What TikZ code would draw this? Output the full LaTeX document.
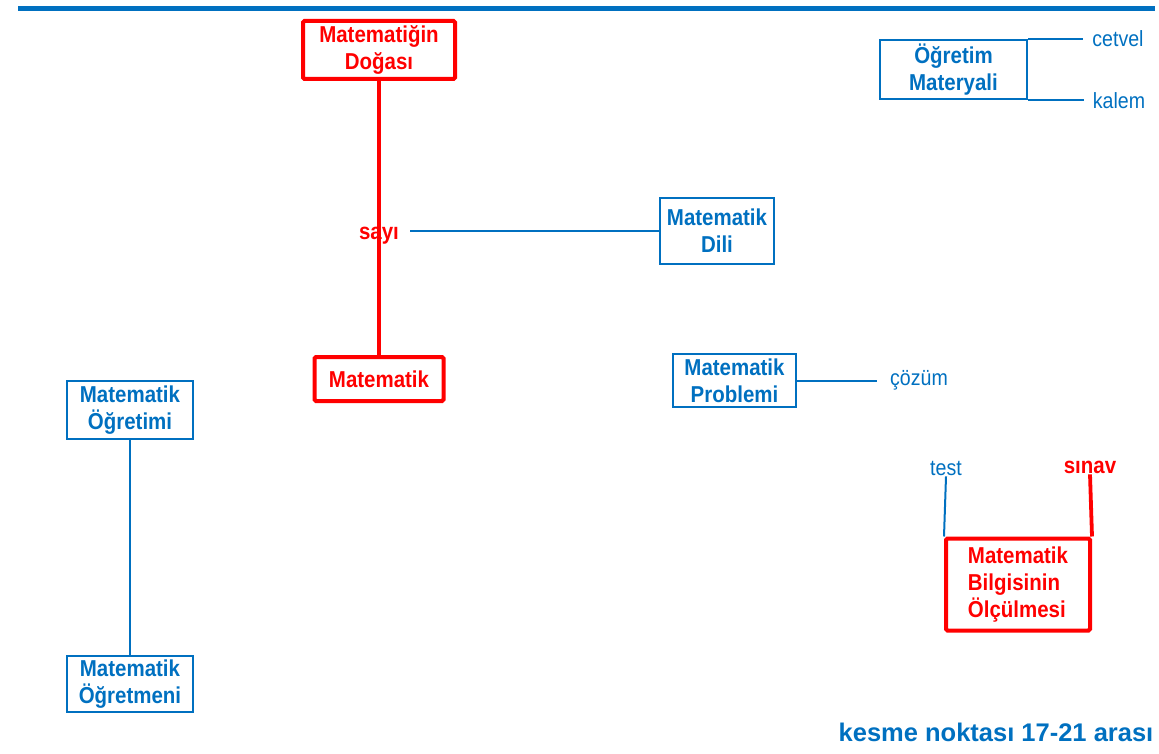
\documentclass[tikz,border=0pt]{standalone}
\usepackage{fontspec}
\setmainfont{Liberation Sans}[FakeStretch=0.89]
\newfontfamily\plainsans{Liberation Sans}
\usetikzlibrary{backgrounds}
\definecolor{mblue}{RGB}{0,112,192}
\definecolor{mred}{RGB}{255,0,0}

\begin{document}
\begin{tikzpicture}[x=1pt,y=-1pt,
  bluebox/.style={draw=mblue, line width=2.2pt, text=mblue, align=center,
    inner sep=0pt, font=\bfseries\fontsize{23}{27}\selectfont},
  redbox/.style={draw=mred, line width=4pt, rounded corners=1.5pt, text=mred,
    align=center, inner sep=0pt, font=\bfseries\fontsize{23}{27}\selectfont},
  bluelink/.style={draw=mblue, line width=2pt},
  redlink/.style={draw=mred, line width=3.8pt},
  bluelabel/.style={text=mblue, inner sep=0pt, font=\fontsize{22}{25}\selectfont},
  redlabel/.style={text=mred, inner sep=0pt, font=\bfseries\fontsize{23}{27}\selectfont},
]
\useasboundingbox (0,0) rectangle (1159,754);

% header rule
\coordinate (ruleL) at (18,8.5);
\coordinate (ruleR) at (1155,8.5);
\draw[draw=mblue, line width=4.5pt] (ruleL) -- (ruleR);

% concept boxes
\node[redbox, minimum width=152pt, minimum height=58pt] (doga) at (379,50) {Matematiğin\\Doğası};
\node[redbox, minimum width=129pt, minimum height=44pt] (mat) at (379,379) {Matematik};
\node[redlabel, anchor=base, inner xsep=11pt] (sayi) at (379,240) {sayı};

\node[bluebox, minimum width=114pt, minimum height=66pt] (dili) at (717,231) {Matematik\\Dili};
\node[bluebox, minimum width=123pt, minimum height=53pt] (prob) at (734.5,380.5) {Matematik\\Problemi};
\node[bluelabel, anchor=base] (cozum) at (919,385) {çözüm};

\node[bluebox, minimum width=147pt, minimum height=59pt] (materyal) at (953.5,69.5) {Öğretim\\Materyali};
\node[bluelabel, anchor=base] (cetvel) at (1118,47) {cetvel};
\node[bluelabel, anchor=base] (kalem) at (1119,109) {kalem};

\node[bluebox, minimum width=126pt, minimum height=58pt] (ogretimi) at (130,410) {Matematik\\Öğretimi};
\node[bluebox, minimum width=126pt, minimum height=56pt] (ogretmeni) at (130,684) {Matematik\\Öğretmeni};

\node[redbox, minimum width=144pt, minimum height=92pt, align=left] (olcum) at (1018,584.5) {Matematik\\Bilgisinin\\Ölçülmesi};
\node[bluelabel, anchor=base, inner sep=1pt] (test) at (946,475) {test};
\node[redlabel, anchor=base, inner sep=1pt] (sinav) at (1090,473) {sınav};

\node[text=mblue, anchor=base, inner sep=0pt, font=\plainsans\bfseries\fontsize{25.5}{30}\selectfont] (kesme) at (996,741) {kesme noktası 17-21 arası};

% connectors
\begin{pgfonlayer}{background}
  \draw[redlink] (doga.south) -- (mat.north);
\end{pgfonlayer}
\draw[bluelink] (sayi.east |- dili.west) -- (dili.west);
\draw[bluelink, shorten >=13pt] (prob.east) -- (prob.east -| cozum.west);
\draw[bluelink, shorten >=9pt] (materyal.north east) -- (materyal.north east -| cetvel.west);
\draw[bluelink, shorten >=9pt] (materyal.south east) -- (materyal.south east -| kalem.west);
\draw[bluelink] (ogretimi.south) -- (ogretmeni.north);
\draw[bluelink] (olcum.north west) -- (test.south);
\draw[redlink] (olcum.north east) -- (sinav.south);
\end{tikzpicture}
\end{document}
